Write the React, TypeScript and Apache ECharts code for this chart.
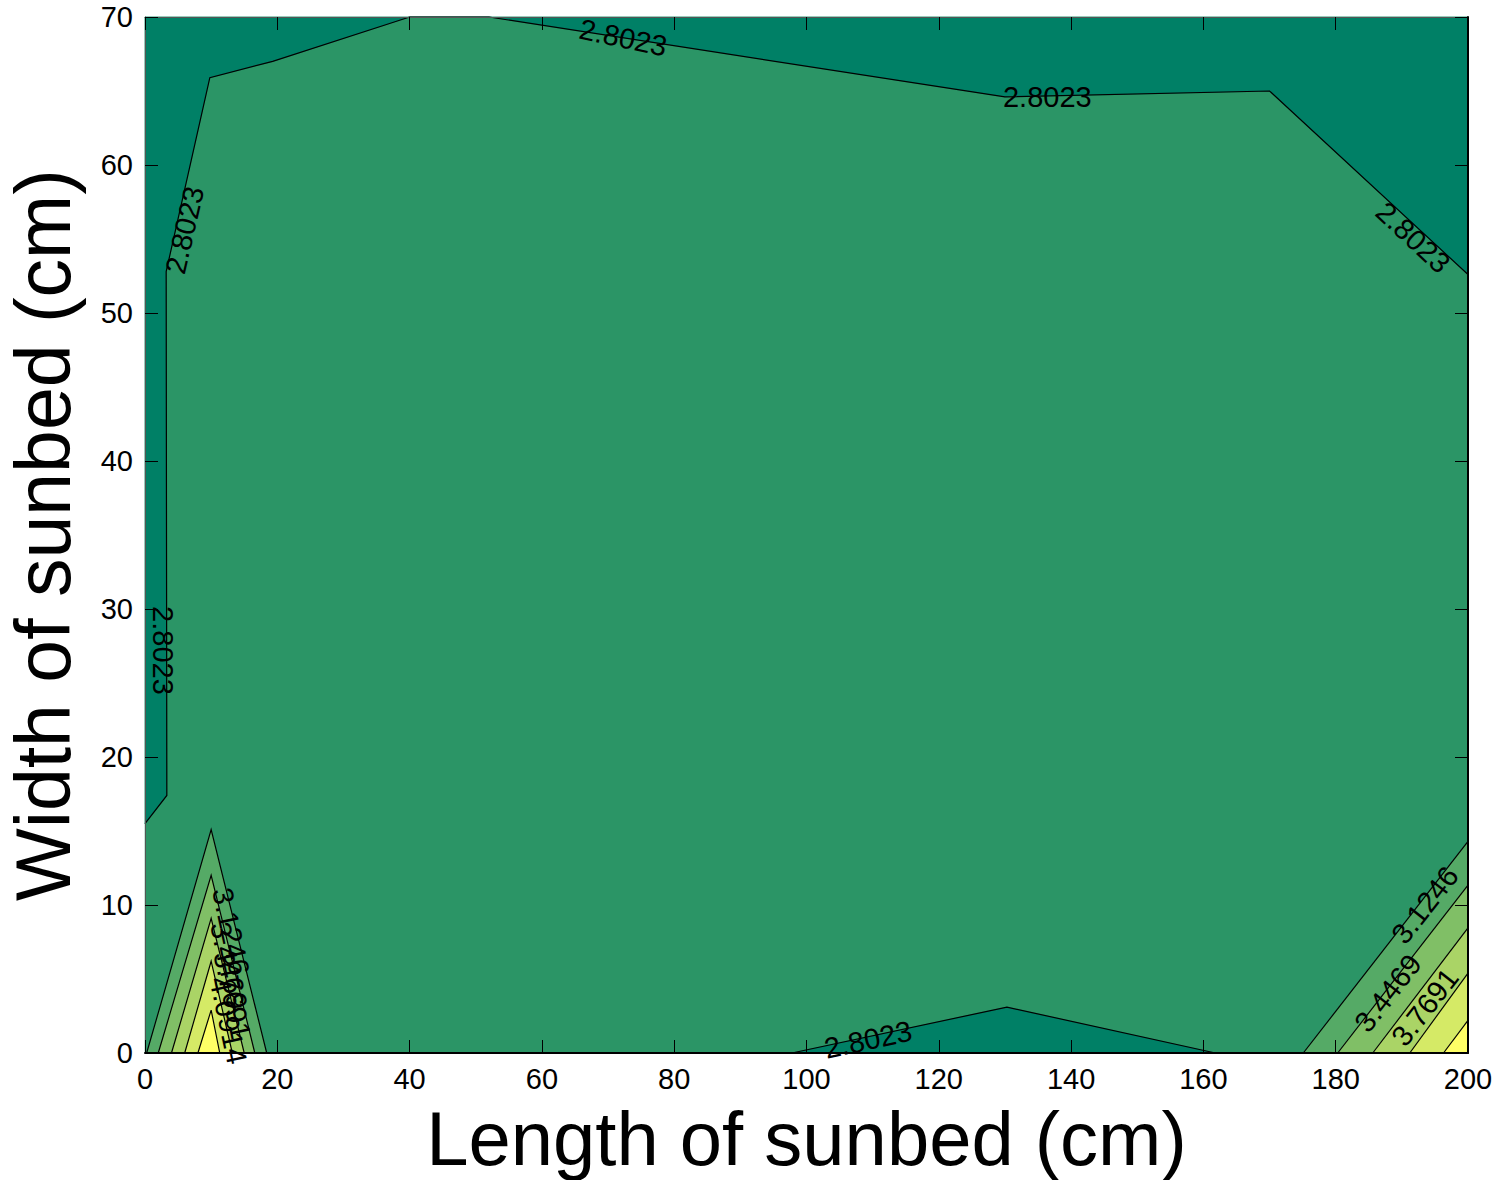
import React, { useEffect, useRef } from "react";
import * as echarts from "echarts";

// Axis ranges / ticks
const xTicks = [0, 20, 40, 60, 80, 100, 120, 140, 160, 180, 200];
const yTicks = [0, 10, 20, 30, 40, 50, 60, 70];

// Contour levels and band colours (summer colormap)
const levels = [2.8023, 3.1246, 3.4469, 3.7691, 4.0914, 4.4137];
const bandColors = ["#008066", "#2b9566", "#55aa66", "#80bf66", "#aad466", "#d5ea66", "#ffff66"];

// Contour lines, [length, width] in data units
const topLine = [[0, 15.5], [3.3, 17.4], [3.2, 52.8], [9.8, 65.9], [19.3, 67.0], [40, 70], [52, 70], [130, 64.6], [170, 65.0], [200, 52.6]];
const rightEdgeLine = [[200, 52.6], [200, 17.5]];
const bottomLine = [[97.8, 0], [130.3, 3.1], [161.8, 0]];

const leftPeakLines = [
  [[0.25, 0], [10, 15.1], [18.4, 0]],
  [[2.0, 0], [10, 12.0], [16.6, 0]],
  [[4.0, 0], [10, 9.1], [15.0, 0]],
  [[6.0, 0], [10, 6.2], [13.2, 0]],
  [[8.0, 0], [10, 2.9], [11.3, 0]],
];
const rightCornerLines = [
  [[175.1, 0], [200, 14.3]],
  [[180.3, 0], [200, 11.35]],
  [[185.6, 0], [200, 8.45]],
  [[191.2, 0], [200, 5.4]],
  [[196.3, 0], [200, 2.2]],
];

// Contour labels: x, y, level index, angle (deg)
const labelX = [6.0, 2.7, 72.3, 136.4, 191.7, 109.3, 193.5, 187.9, 193.5, 13.0, 12.7, 13.2, 12.6];
const labelY = [55.6, 27.2, 68.6, 64.6, 55.1, 0.9, 10.0, 4.05, 3.1, 8.2, 5.9, 3.9, 2.2];
const labelLevel = [0, 0, 0, 0, 0, 0, 1, 2, 3, 1, 2, 3, 4];
const labelAngle = [77, -90, -12, 0, -43, 12, 52, 52, 52, -78, -78, -78, -78];

// Filled regions: band index + polygon (built from the contour lines)
const fillRegions: { band: number; pts: number[][] }[] = [
  { band: 1, pts: [[0, 0], [200, 0], [200, 70], [0, 70]] },
  { band: 0, pts: [...topLine, [200, 70], [0, 70]] },
  { band: 0, pts: [...bottomLine] },
  ...leftPeakLines.map((l, i) => ({ band: i + 2, pts: l })),
  ...rightCornerLines.map((l, i) => ({ band: i + 2, pts: [...l, [200, 0]] })),
];

const contourLines: number[][][] = [topLine, rightEdgeLine, bottomLine, ...leftPeakLines, ...rightCornerLines];

const FONT = "'Liberation Sans', Arial, Helvetica, sans-serif";

export default function App() {
  const ref = useRef<HTMLDivElement>(null);
  useEffect(() => {
    if (!ref.current) return;
    const chart = echarts.init(ref.current, null, { renderer: "svg" });
    const axisCommon = {
      type: "value" as const,
      splitLine: { show: false },
      axisTick: { show: true, inside: true, length: 13, lineStyle: { color: "#000", width: 1 } },
      z: 10,
    };
    chart.setOption({
      animation: false,
      backgroundColor: "#ffffff",
      grid: { left: 145, right: 36, top: 17, bottom: 127, containLabel: false, outerBoundsMode: "none" },
      xAxis: [
        {
          ...axisCommon,
          min: 0, max: 200, interval: 20,
          position: "bottom",
          axisLine: { show: true, onZero: false, lineStyle: { color: "#000", width: 2 } },
          axisLabel: { show: true, margin: 11, fontSize: 29, fontFamily: FONT, color: "#000" },
          name: "Length of sunbed (cm)",
          nameLocation: "middle",
          nameGap: 47,
          nameTextStyle: { fontSize: 76, fontFamily: FONT, color: "#000" },
        },
        {
          ...axisCommon,
          min: 0, max: 200, interval: 20,
          position: "top",
          axisLine: { show: true, onZero: false, lineStyle: { color: "#555", width: 1 } },
          axisLabel: { show: false },
        },
      ],
      yAxis: [
        {
          ...axisCommon,
          min: 0, max: 70, interval: 10,
          position: "left",
          axisLine: { show: true, onZero: false, lineStyle: { color: "#555", width: 1 } },
          axisLabel: { show: true, margin: 12, fontSize: 29, fontFamily: FONT, color: "#000" },
          name: "Width of sunbed (cm)",
          nameLocation: "middle",
          nameGap: 64,
          nameRotate: 90,
          nameTextStyle: { fontSize: 77, fontFamily: FONT, color: "#000" },
        },
        {
          ...axisCommon,
          min: 0, max: 70, interval: 10,
          position: "right",
          axisLine: { show: true, onZero: false, lineStyle: { color: "#000", width: 2 } },
          axisLabel: { show: false },
        },
      ],
      series: [
        {
          type: "custom",
          name: "fills",
          clip: false,
          z: 1,
          data: fillRegions.map(() => [0, 0]),
          renderItem: (params: any, api: any) => {
            const r = fillRegions[params.dataIndex];
            return {
              type: "polygon",
              shape: { points: r.pts.map((p) => api.coord(p)) },
              style: { fill: bandColors[r.band], stroke: bandColors[r.band], lineWidth: 0.5 },
            };
          },
        },
        {
          type: "custom",
          name: "lines",
          clip: false,
          z: 3,
          data: contourLines.map(() => [0, 0]),
          renderItem: (params: any, api: any) => {
            const l = contourLines[params.dataIndex];
            return {
              type: "polyline",
              shape: { points: l.map((p) => api.coord(p)) },
              style: { stroke: "#000", lineWidth: 1.2, fill: null },
            };
          },
        },
        {
          type: "custom",
          name: "labels",
          clip: false,
          z: 4,
          data: labelX.map((x, i) => [x, labelY[i]]),
          renderItem: (params: any, api: any) => {
            const i = params.dataIndex;
            const p = api.coord([labelX[i], labelY[i]]);
            return {
              type: "text",
              x: p[0],
              y: p[1],
              rotation: (labelAngle[i] * Math.PI) / 180,
              style: {
                text: levels[labelLevel[i]].toFixed(4),
                fontSize: 29,
                fontFamily: FONT,
                fill: "#000",
                align: "center",
                verticalAlign: "middle",
              },
            };
          },
        },
      ],
    });
    return () => chart.dispose();
  }, []);
  return (
    <div
      ref={ref}
      style={{ position: "absolute", left: 0, top: 0, width: 1504, height: 1180 }}
    />
  );
}
